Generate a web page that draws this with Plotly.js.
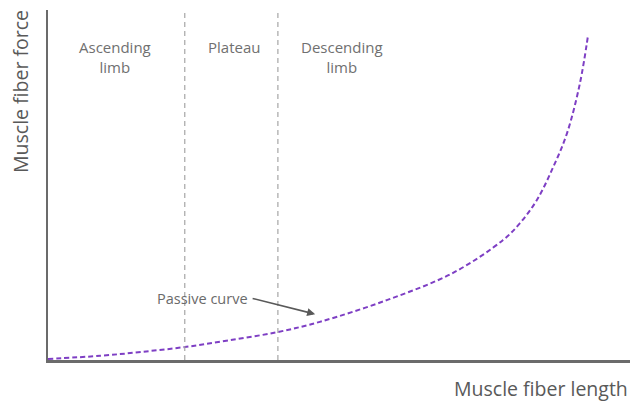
<!DOCTYPE html>
<html>
<head>
<meta charset="utf-8">
<script src="https://cdn.plot.ly/plotly-3.0.1.min.js"></script>
<style>html,body{margin:0;padding:0;background:#fff}#chart{width:640px;height:403px}</style>
</head>
<body>
<div id="chart"></div>
<script>
// Passive force-length curve (arbitrary units 0-100)
const fiberLength = [0, 9, 16, 23.5, 31, 39.5, 46.7, 58.2, 69.6, 78.2, 81.1, 84.0, 86.8, 89.2, 91.4, 92.8];
const passiveForce = [0.3, 1.2, 2.3, 3.7, 5.6, 8.0, 10.9, 17.1, 24.9, 34.3, 39.1, 45.7, 55.1, 64.9, 79.1, 92.9];
// Region boundaries along fiber length
const regionBounds = [23.5, 39.5];
const regionLabels = ["Ascending<br>limb", "Plateau", "Descending<br>limb"];
const regionLabelX = [11.5, 32, 50.5];
// Passive-curve callout: label end and arrow target (data units)
const calloutTail = [34.9, 17.7];
const calloutHead = [45.9, 13.1];

const textGrey = "#707070";
const fontFam = "'Open Sans', sans-serif";

const trace = {
  x: fiberLength, y: passiveForce, mode: "lines", type: "scatter",
  line: {color: "#7e3fc4", width: 2, dash: "5px,3px", shape: "spline", smoothing: 1},
  hoverinfo: "skip", showlegend: false
};

const shapes = regionBounds.map(b => ({
  type: "line", xref: "x", yref: "paper", x0: b, x1: b, y0: 0, y1: 1,
  line: {color: "#a6a6a6", width: 1.2, dash: "5px,4px"}
}));

const annotations = regionLabels.map((t, i) => ({
  text: t, x: regionLabelX[i], y: 1, xref: "x", yref: "paper",
  yanchor: "top", yshift: -25, showarrow: false,
  font: {family: fontFam, size: 15, color: textGrey}, align: "center"
}));

annotations.push({
  text: "", x: calloutHead[0], y: calloutHead[1], xref: "x", yref: "y",
  ax: calloutTail[0], ay: calloutTail[1], axref: "x", ayref: "y",
  showarrow: true, arrowhead: 2, arrowsize: 1, arrowwidth: 1.6, arrowcolor: "#595959", standoff: 0, startstandoff: 0
});
annotations.push({
  text: "Passive curve", x: calloutTail[0], y: calloutTail[1], xref: "x", yref: "y",
  xanchor: "right", yanchor: "middle", xshift: -1, showarrow: false,
  font: {family: fontFam, size: 14.5, color: "#6a6a6a"}
});

annotations.push({
  text: "Muscle fiber length", xref: "paper", yref: "paper", x: 1, y: 0,
  xanchor: "right", yanchor: "top", yshift: -13, showarrow: false,
  font: {family: fontFam, size: 19.5, color: "#595959"}
});
annotations.push({
  text: "Muscle fiber force", xref: "paper", yref: "paper", x: 0, y: 1,
  xanchor: "right", yanchor: "top", xshift: -12, yshift: 2, textangle: -90, showarrow: false,
  font: {family: fontFam, size: 19.5, color: "#595959"}
});

const layout = {
  width: 640, height: 403,
  margin: {l: 48, r: 10, t: 10, b: 43},
  paper_bgcolor: "#fff", plot_bgcolor: "#fff",
  xaxis: {range: [0, 100], showline: true, linecolor: "#6b6b6b", linewidth: 2.5,
          showgrid: false, zeroline: false, showticklabels: false, ticks: ""},
  yaxis: {range: [0, 100], showline: true, linecolor: "#6b6b6b", linewidth: 2.5,
          showgrid: false, zeroline: false, showticklabels: false, ticks: ""},
  shapes: shapes, annotations: annotations
};

Plotly.newPlot("chart", [trace], layout, {staticPlot: true, displayModeBar: false});
</script>
</body>
</html>
